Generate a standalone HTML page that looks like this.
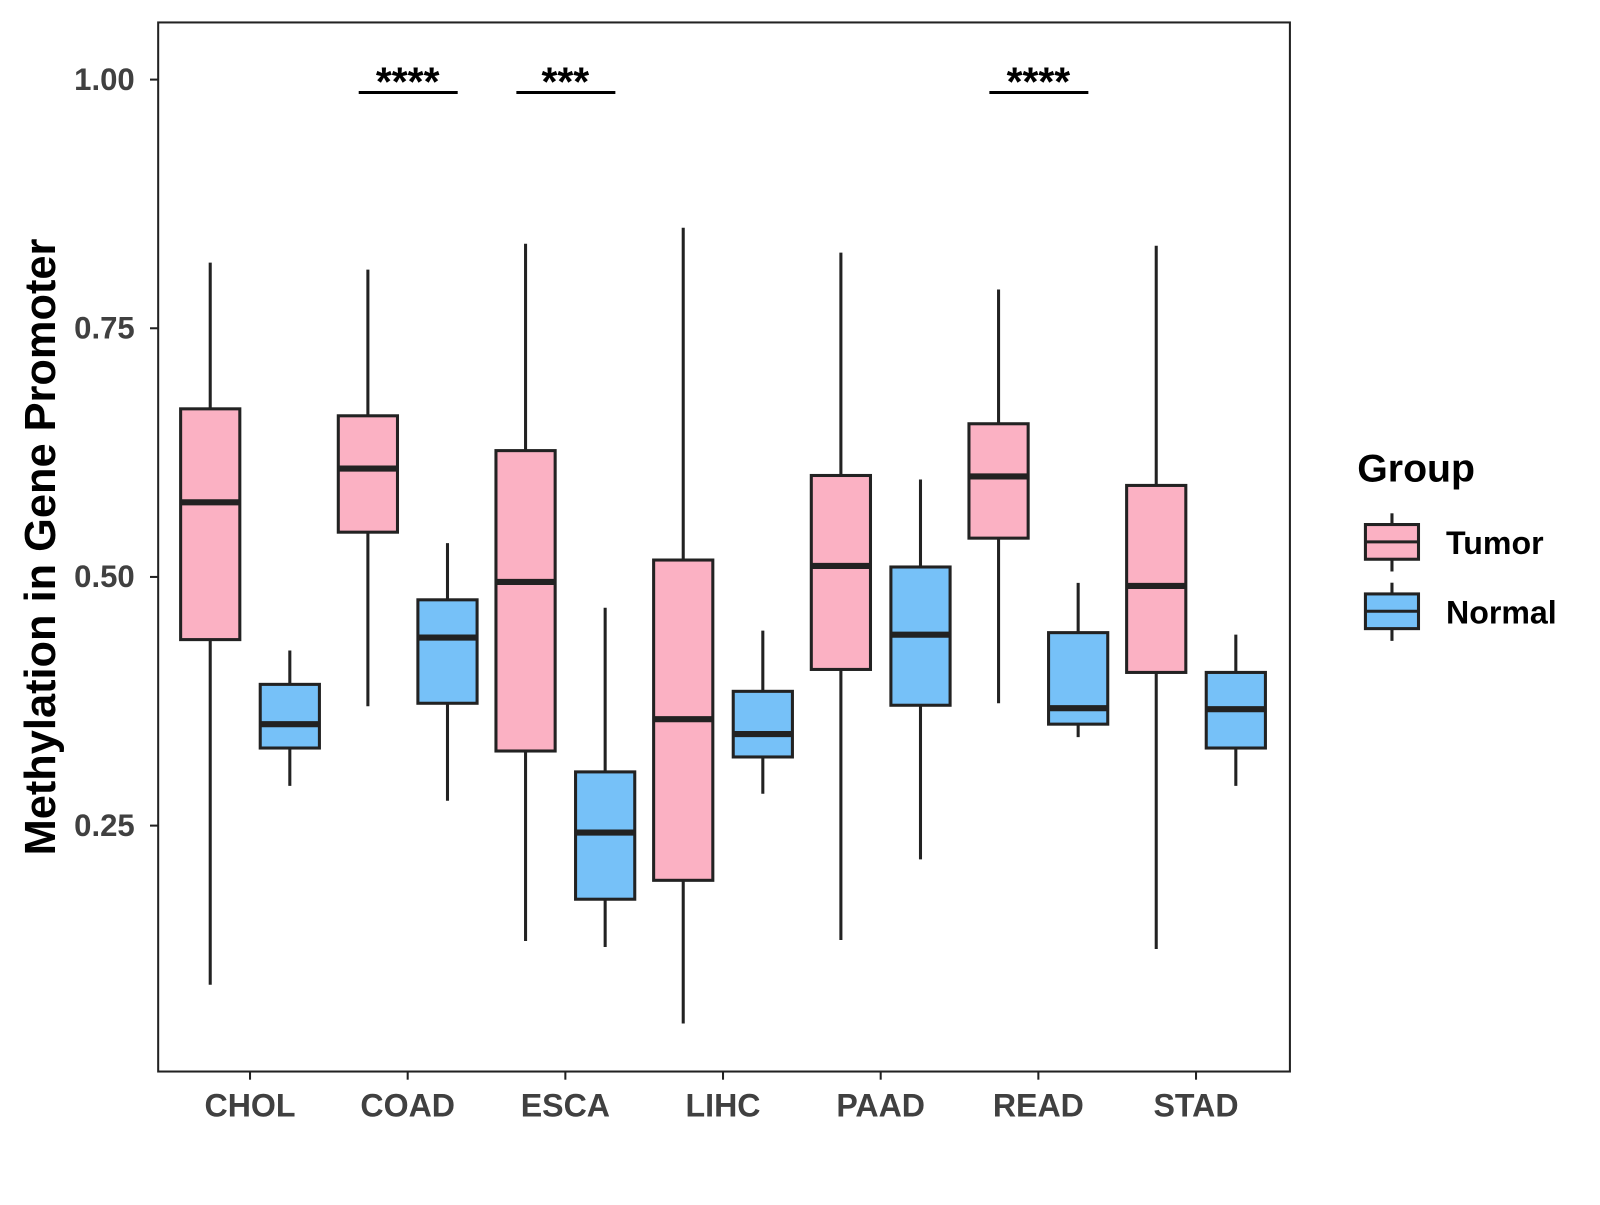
<!DOCTYPE html>
<html><head><meta charset="utf-8"><style>
body{margin:0;background:#fff}
svg text{font-family:"Liberation Sans",Arial,sans-serif;font-weight:bold}
</style></head><body>
<svg id="chart" width="1600" height="1200" xmlns="http://www.w3.org/2000/svg">
<rect width="1600" height="1200" fill="#fff"/>
<g transform="scale(1.0205)">
<rect x="155" y="22" width="1109" height="1028" fill="none" stroke="#222" stroke-width="2"/>
<g id="marks"></g>
<text transform="translate(54,536) rotate(-90)" text-anchor="middle" font-size="42.5" fill="#000">Methylation in Gene Promoter</text>
<g>
<text x="1330" y="472" font-size="38.5" fill="#000">Group</text>
<line x1="1364" y1="503" x2="1364" y2="560" stroke="#222" stroke-width="3"/>
<rect x="1338" y="514" width="52" height="34" fill="#fbb1c3" stroke="#222" stroke-width="3"/>
<line x1="1338" y1="531" x2="1390" y2="531" stroke="#222" stroke-width="3"/>
<text x="1417" y="543" font-size="31.5" fill="#000">Tumor</text>
<line x1="1364" y1="571" x2="1364" y2="628" stroke="#222" stroke-width="3"/>
<rect x="1338" y="582" width="52" height="34" fill="#76c1f8" stroke="#222" stroke-width="3"/>
<line x1="1338" y1="599" x2="1390" y2="599" stroke="#222" stroke-width="3"/>
<text x="1417" y="611" font-size="31.5" fill="#000">Normal</text>
</g>
</g>
</svg>
<script>
const categories=["CHOL","COAD","ESCA","LIHC","PAAD","READ","STAD"];
const tumorStats=[[0.090,0.437,0.575,0.669,0.816],[0.370,0.545,0.609,0.662,0.809],[0.134,0.325,0.495,0.627,0.835],[0.051,0.195,0.357,0.517,0.851],[0.135,0.407,0.511,0.602,0.826],[0.373,0.539,0.601,0.654,0.789],[0.126,0.404,0.491,0.592,0.833]];
const normalStats=[[0.290,0.328,0.352,0.392,0.426],[0.275,0.373,0.439,0.477,0.534],[0.128,0.176,0.243,0.304,0.469],[0.282,0.319,0.342,0.385,0.446],[0.216,0.371,0.442,0.510,0.598],[0.339,0.352,0.368,0.444,0.494],[0.290,0.328,0.367,0.404,0.442]];
const yTicks=[0.25,0.50,0.75,1.00];
const yTickLabels=["0.25","0.50","0.75","1.00"];
const sigCategories=["COAD","ESCA","READ"];
const sigLabels=["****","***","****"];
const sigLevel=0.987;

const NS="http://www.w3.org/2000/svg";
const g=document.getElementById('marks');
const y=v=>78+(1-v)*974.7;
const x=i=>245+i*154.5;
function mk(t,a,txt){const e=document.createElementNS(NS,t);for(const k in a)e.setAttribute(k,a[k]);if(txt!=null)e.textContent=txt;g.appendChild(e);return e;}
yTicks.forEach((v,i)=>{
 let l=mk('line',{x1:147,x2:155,y1:y(v),y2:y(v),stroke:'#222','stroke-width':2});
 
 
 let t=mk('text',{x:132,y:y(v)+10,'text-anchor':'end','font-size':30.5,fill:'#404040'},yTickLabels[i]);
 
 
});
categories.forEach((c,i)=>{
 let l=mk('line',{x1:x(i),x2:x(i),y1:1050,y2:1058,stroke:'#222','stroke-width':2});
 
 
 let t=mk('text',{x:x(i),y:1094,'text-anchor':'middle','font-size':31.5,fill:'#404040'},c);
 
 
 [[tumorStats[i],-39,'#fbb1c3','tumor'],[normalStats[i],39,'#76c1f8','normal']].forEach(([s,off,col,nm])=>{
  const cx=x(i)+off;
  let w=mk('line',{x1:cx,x2:cx,y1:y(s[0]),y2:y(s[4]),stroke:'#222','stroke-width':3});
  
  
  let r=mk('rect',{x:cx-29,y:y(s[3]),width:58,height:y(s[1])-y(s[3]),fill:col,stroke:'#222','stroke-width':3});
  
  
  let m=mk('line',{x1:cx-29,x2:cx+29,y1:y(s[2]),y2:y(s[2]),stroke:'#222','stroke-width':6});
  
  
 });
});
sigCategories.forEach((c,j)=>{
 const i=categories.indexOf(c);
 let l=mk('line',{x1:x(i)-48,x2:x(i)+49,y1:y(sigLevel),y2:y(sigLevel),stroke:'#000','stroke-width':3});
 
 
 let t=mk('text',{x:x(i),y:y(sigLevel)+3,'text-anchor':'middle','font-size':40,fill:'#000'},sigLabels[j]);
 
 
});
</script>
</body></html>
